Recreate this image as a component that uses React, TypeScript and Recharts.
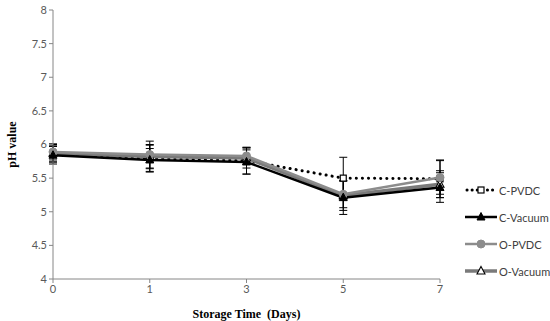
import React from 'react';
import { LineChart, Line, XAxis, YAxis, ErrorBar } from 'recharts';

const days = ['0', '1', '3', '5', '7'];
const cPVDC = [5.86, 5.79, 5.76, 5.5, 5.49];
const cVacuum = [5.84, 5.77, 5.74, 5.21, 5.36];
const oPVDC = [5.89, 5.85, 5.83, 5.26, 5.51];
const oVacuum = [5.87, 5.82, 5.8, 5.24, 5.41];
const cPVDCErr = [0.12, 0.2, 0.2, 0.31, 0.28];
const cVacuumErr = [0.13, 0.17, 0.18, 0.25, 0.22];
const oPVDCErr = [0.12, 0.2, 0.12, 0.2, 0.25];
const oVacuumErr = [0.13, 0.18, 0.15, 0.22, 0.2];
const yTicks = [4, 4.5, 5, 5.5, 6, 6.5, 7, 7.5, 8];
const seriesNames = ['C-PVDC', 'C-Vacuum', 'O-PVDC', 'O-Vacuum'];

const data = days.map((d, i) => ({
  day: d,
  cPVDC: cPVDC[i],
  cVacuum: cVacuum[i],
  oPVDC: oPVDC[i],
  oVacuum: oVacuum[i],
  cPVDCErr: cPVDCErr[i],
  cVacuumErr: cVacuumErr[i],
  oPVDCErr: oPVDCErr[i],
  oVacuumErr: oVacuumErr[i],
}));

const Square = (p: any) => (
  <rect key={`s${p.index}`} x={p.cx - 3} y={p.cy - 3} width={6} height={6} fill="#fff" stroke="#000" strokeWidth={1.2} />
);
const TriFilled = (p: any) => (
  <path key={`t${p.index}`} d={`M${p.cx},${p.cy - 4.5} L${p.cx + 4},${p.cy + 3} L${p.cx - 4},${p.cy + 3} Z`} fill="#000" stroke="#000" />
);
const Circ = (p: any) => (
  <circle key={`c${p.index}`} cx={p.cx} cy={p.cy} r={4} fill="#8c8c8c" stroke="#8c8c8c" />
);
const TriOpen = (p: any) => (
  <path key={`o${p.index}`} d={`M${p.cx},${p.cy - 4.5} L${p.cx + 4},${p.cy + 3} L${p.cx - 4},${p.cy + 3} Z`} fill="#fff" stroke="#000" strokeWidth={1.1} />
);

const YLabel = (props: any) => {
  const vb = props.viewBox || {};
  const cy = (vb.y || 0) + (vb.height || 0) / 2;
  return (
    <text x={12} y={cy} transform={`rotate(-90, 12, ${cy})`} textAnchor="middle" dominantBaseline="central"
      style={{ fontFamily: 'Liberation Serif, serif', fontWeight: 'bold', fontSize: 12, fill: '#000' }}>
      pH value
    </text>
  );
};

const LegendBox = () => {
  const tops = [183, 210, 237, 264];
  return (
    <div style={{ position: 'absolute', left: 464, top: 0, fontFamily: 'Lato, sans-serif', fontSize: 11, color: '#404040', whiteSpace: 'nowrap' }}>
      {seriesNames.map((name, k) => (
        <div key={name} style={{ position: 'absolute', top: tops[k], left: 0, display: 'flex', alignItems: 'center', height: 14 }}>
          <svg width={34} height={12}>
            {k === 0 && <line x1={3} y1={6} x2={32} y2={6} stroke="#000" strokeWidth={3} strokeDasharray="0.1 5" strokeLinecap="round" />}
            {k === 1 && <line x1={1} y1={6} x2={33} y2={6} stroke="#000" strokeWidth={2.5} />}
            {k === 2 && <line x1={1} y1={6} x2={33} y2={6} stroke="#8c8c8c" strokeWidth={2.5} />}
            {k === 3 && <line x1={1} y1={6} x2={33} y2={6} stroke="#7a7a7a" strokeWidth={3.5} />}
            {k === 0 && Square({ cx: 17, cy: 6, index: 0 })}
            {k === 1 && TriFilled({ cx: 17, cy: 6, index: 0 })}
            {k === 2 && Circ({ cx: 17, cy: 6, index: 0 })}
            {k === 3 && TriOpen({ cx: 17, cy: 6, index: 0 })}
          </svg>
          <span style={{ marginLeft: 1 }}>{name}</span>
        </div>
      ))}
    </div>
  );
};

export default function App() {
  const tickStyle = { fontFamily: 'Lato, sans-serif', fontSize: 11, fill: '#595959' };
  return (
    <div style={{ position: 'absolute', left: 0, top: 0, width: 550, height: 321, background: '#fff' }}>
      <LineChart width={550} height={321} data={data} margin={{ top: 10, right: 110, left: 13, bottom: 22 }}>
        <XAxis
          dataKey="day"
          height={20}
          stroke="#868686"
          tick={tickStyle}
          tickSize={4}
          tickLine={{ stroke: '#868686' }}
          label={{ value: 'Storage Time\u00a0\u00a0(Days)', position: 'insideBottom', offset: -19, style: { fontFamily: 'Liberation Serif, serif', fontWeight: 'bold', fontSize: 12, fill: '#000' } }}
        />
        <YAxis
          domain={[4, 8]}
          ticks={yTicks}
          width={40}
          stroke="#868686"
          tick={tickStyle}
          tickSize={4}
          interval={0}
          label={<YLabel />}
        />
        <Line dataKey="cPVDC" stroke="#000" strokeWidth={3} strokeDasharray="0.1 6" strokeLinecap="round" dot={Square} isAnimationActive={false}>
          <ErrorBar dataKey="cPVDCErr" stroke="#000" strokeWidth={1} width={4} />
        </Line>
        <Line dataKey="oVacuum" stroke="#7a7a7a" strokeWidth={3.5} dot={TriOpen} isAnimationActive={false}>
          <ErrorBar dataKey="oVacuumErr" stroke="#000" strokeWidth={1} width={4} />
        </Line>
        <Line dataKey="oPVDC" stroke="#8c8c8c" strokeWidth={2.5} dot={Circ} isAnimationActive={false}>
          <ErrorBar dataKey="oPVDCErr" stroke="#000" strokeWidth={1} width={4} />
        </Line>
        <Line dataKey="cVacuum" stroke="#000" strokeWidth={2.5} dot={TriFilled} isAnimationActive={false}>
          <ErrorBar dataKey="cVacuumErr" stroke="#000" strokeWidth={1} width={4} />
        </Line>
      </LineChart>
      <LegendBox />
    </div>
  );
}
